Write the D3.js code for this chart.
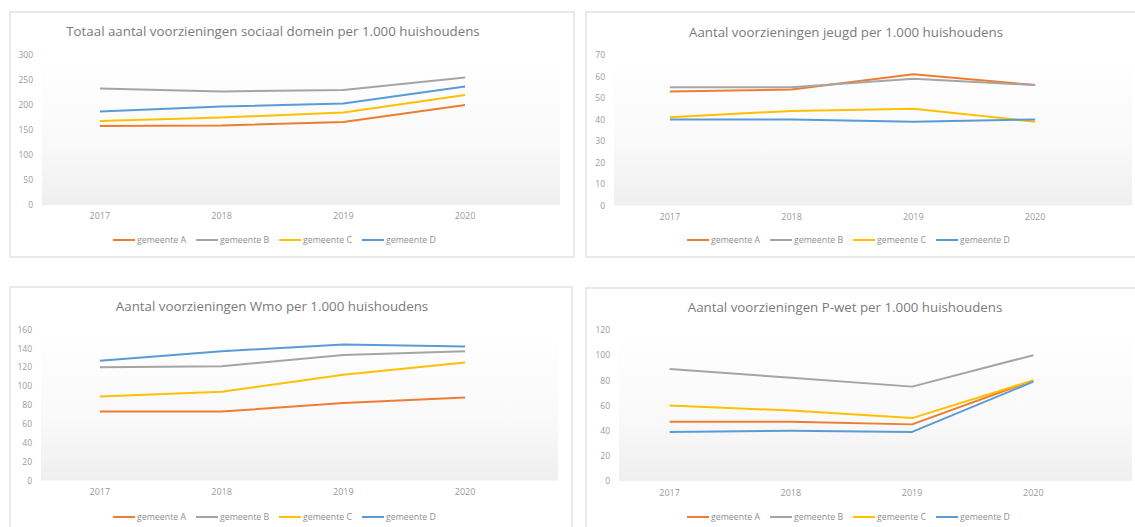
<!DOCTYPE html>
<html>
<head>
<meta charset="utf-8">
<script src="https://cdn.jsdelivr.net/npm/d3@7"></script>
<style>
  body { margin: 0; background: #fff; }
  svg { display: block; font-family: "Open Sans", sans-serif; }
</style>
</head>
<body>
<svg id="chart" width="1135" height="527"></svg>
<script>
// categories and series
var years = ["2017", "2018", "2019", "2020"];
var seriesNames = ["gemeente A", "gemeente B", "gemeente C", "gemeente D"];
var seriesColors = ["#ED7D31", "#A5A5A5", "#FFC000", "#5B9BD5"];

// Totaal sociaal domein
var totaalA = [158, 159, 166, 200];
var totaalB = [233, 227, 230, 255];
var totaalC = [168, 175, 185, 220];
var totaalD = [187, 197, 203, 237];
var totaalTicks = [0, 50, 100, 150, 200, 250, 300];

// Jeugd
var jeugdA = [53, 54, 61, 56];
var jeugdB = [55, 55, 59, 56];
var jeugdC = [41, 44, 45, 39];
var jeugdD = [40, 40, 39, 40];
var jeugdTicks = [0, 10, 20, 30, 40, 50, 60, 70];

// Wmo
var wmoA = [73, 73, 82, 88];
var wmoB = [120, 121, 133, 137];
var wmoC = [89, 94, 112, 125];
var wmoD = [127, 137, 144, 142];
var wmoTicks = [0, 20, 40, 60, 80, 100, 120, 140, 160];

// P-wet
var pwetA = [47, 47, 45, 80];
var pwetB = [89, 82, 75, 100];
var pwetC = [60, 56, 50, 80];
var pwetD = [39, 40, 39, 79];
var pwetTicks = [0, 20, 40, 60, 80, 100, 120];

var svg = d3.select("#chart");

var defs = svg.append("defs");
var grad = defs.append("linearGradient")
  .attr("id", "plotbg")
  .attr("x1", 0).attr("y1", 0).attr("x2", 0).attr("y2", 1);
grad.append("stop").attr("offset", "0%").attr("stop-color", "#ffffff");
grad.append("stop").attr("offset", "60%").attr("stop-color", "#f9f9f9");
grad.append("stop").attr("offset", "100%").attr("stop-color", "#efefef");

// panel layout
var panels = [
  { title: "Totaal aantal voorzieningen sociaal domein per 1.000 huishoudens",
    series: [totaalA, totaalB, totaalC, totaalD], ticks: totaalTicks,
    box: [10, 12, 564, 245], xr: [39, 526], yr: [205, 55], labelX: 33,
    titleX: 273, titleY: 36, yearY: 220, legendX: 113, legendY: 240 },
  { title: "Aantal voorzieningen jeugd per 1.000 huishoudens",
    series: [jeugdA, jeugdB, jeugdC, jeugdD], ticks: jeugdTicks,
    box: [586, 12, 560, 245], xr: [609, 1096], yr: [205.5, 55], labelX: 605,
    titleX: 846, titleY: 37, yearY: 221, legendX: 687, legendY: 240 },
  { title: "Aantal voorzieningen Wmo per 1.000 huishoudens",
    series: [wmoA, wmoB, wmoC, wmoD], ticks: wmoTicks,
    box: [10, 287, 562, 250], xr: [39, 526], yr: [480.5, 329.5], labelX: 32,
    titleX: 272, titleY: 311, yearY: 496, legendX: 113, legendY: 517 },
  { title: "Aantal voorzieningen P-wet per 1.000 huishoudens",
    series: [pwetA, pwetB, pwetC, pwetD], ticks: pwetTicks,
    box: [586, 288, 560, 250], xr: [609, 1094], yr: [481, 330], labelX: 610,
    titleX: 845, titleY: 312, yearY: 497, legendX: 687, legendY: 517 }
];

panels.forEach(function(p) {
  var g = svg.append("g");

  // chart border
  g.append("rect")
    .attr("x", p.box[0]).attr("y", p.box[1])
    .attr("width", p.box[2]).attr("height", p.box[3])
    .attr("fill", "#fff")
    .attr("stroke", "#e2e2e2")
    .attr("stroke-width", 1.5);

  var x = d3.scaleBand().domain(years).range(p.xr).padding(0);
  var y = d3.scaleLinear().domain([0, d3.max(p.ticks)]).range(p.yr);

  // plot area shading
  g.append("rect")
    .attr("x", p.labelX + 9)
    .attr("y", y(d3.max(p.ticks)))
    .attr("width", p.box[0] + p.box[2] - 14 - (p.labelX + 9))
    .attr("height", y(0) - y(d3.max(p.ticks)))
    .attr("fill", "url(#plotbg)");

  // title
  g.append("text")
    .attr("x", p.titleX).attr("y", p.titleY)
    .attr("text-anchor", "middle")
    .style("font-size", "13.3px")
    .style("fill", "#7a7a7a")
    .text(p.title);

  // y axis labels
  var yAxis = d3.axisLeft(y).tickValues(p.ticks).tickSize(0).tickPadding(0);
  g.append("g")
    .attr("transform", "translate(" + p.labelX + ",0)")
    .call(yAxis)
    .call(function(a) { a.select(".domain").remove(); })
    .call(function(a) {
      a.selectAll("text")
        .style("font-family", "Open Sans, sans-serif")
        .style("font-size", "8.5px")
        .style("fill", "#9a9a9a");
    });

  // x axis labels
  var xAxis = d3.axisBottom(x).tickSize(0).tickPadding(0);
  g.append("g")
    .attr("transform", "translate(0," + (p.yearY - 7) + ")")
    .call(xAxis)
    .call(function(a) { a.select(".domain").remove(); })
    .call(function(a) {
      a.selectAll("text")
        .style("font-family", "Open Sans, sans-serif")
        .style("font-size", "9px")
        .style("fill", "#9a9a9a");
    });

  // lines
  var line = d3.line()
    .x(function(d, i) { return x(years[i]) + x.bandwidth() / 2; })
    .y(function(d) { return y(d); });

  p.series.forEach(function(s, i) {
    g.append("path")
      .datum(s)
      .attr("fill", "none")
      .attr("stroke", seriesColors[i])
      .attr("stroke-width", 2)
      .attr("stroke-linejoin", "round")
      .attr("d", line);
  });

  // legend
  var leg = g.append("g")
    .attr("transform", "translate(" + p.legendX + "," + p.legendY + ")");
  seriesNames.forEach(function(name, i) {
    var item = leg.append("g").attr("transform", "translate(" + (i * 83) + ",0)");
    item.append("line")
      .attr("x1", 0).attr("x2", 22)
      .attr("y1", 0).attr("y2", 0)
      .attr("stroke", seriesColors[i])
      .attr("stroke-width", 2);
    item.append("text")
      .attr("x", 24).attr("y", 3)
      .style("font-size", "8.8px")
      .style("fill", "#8f8f8f")
      .text(name);
  });
});
</script>
</body>
</html>
